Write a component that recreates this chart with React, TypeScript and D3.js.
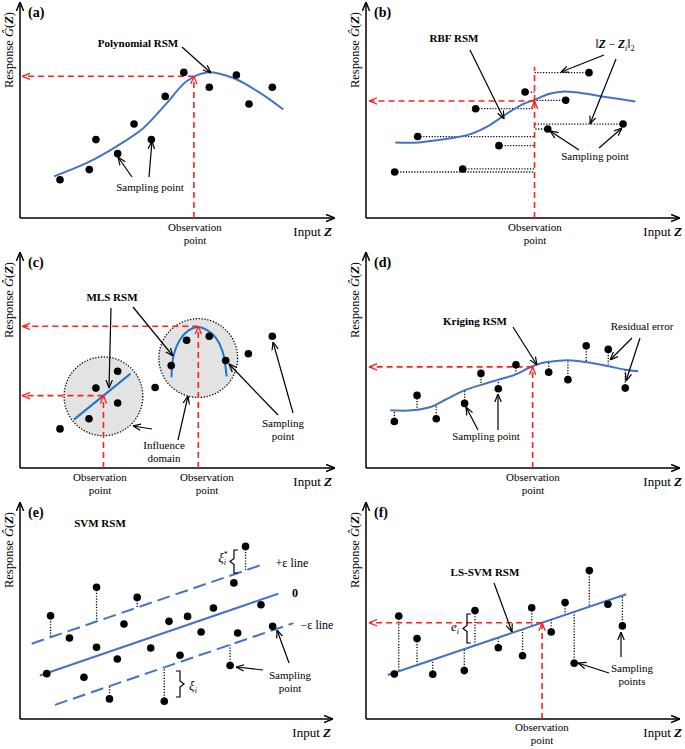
import React from "react";
import * as d3 from "d3";

type Pt = [number, number];

// ---------- (a) Polynomial RSM ----------
const polyPoints: Pt[] = [[1.27,1.77],[2.20,2.24],[2.41,3.63],[3.10,2.98],[3.62,4.35],[4.17,3.63],[4.61,5.63],[5.20,6.74],[6.01,6.05],[6.87,6.62],[7.27,5.28],[8.01,6.05]];
const polyCurve: Pt[] = [[1.08,1.93],[2.12,2.55],[3.07,3.32],[3.92,4.17],[4.66,5.32],[5.29,6.33],[5.93,6.74],[6.77,6.48],[7.62,5.79],[8.36,5.02]];
const polyObs: Pt = [5.52, 6.56];

// ---------- (b) RBF RSM ----------
const rbfPoints: Pt[] = [[0.91,2.13],[1.64,3.77],[3.07,2.27],[3.48,5.06],[4.22,3.35],[5.05,5.83],[5.77,4.12],[6.34,5.45],[7.08,6.73],[8.16,4.35]];
const rbfCurve: Pt[] = [[0.93,3.50],[1.67,3.50],[2.41,3.63],[3.26,3.86],[3.89,4.27],[4.42,4.78],[4.95,5.25],[5.37,5.48],[5.80,5.74],[6.22,5.85],[6.65,5.82],[7.49,5.63],[8.55,5.39]];
const rbfObs: Pt = [5.35, 5.42];
const rbfObsTop = 6.99;

// ---------- (c) MLS RSM ----------
const mlsPoints: Pt[] = [[1.27,1.81],[2.19,2.28],[2.41,3.70],[3.10,4.48],[3.10,3.01],[4.29,3.73],[4.80,4.74],[5.29,5.91],[6.01,6.10],[6.53,4.98],[7.25,5.29],[8.01,6.10]];
const mlsCenters: Pt[] = [[2.65,3.32],[5.66,5.09]];
const mlsRadius = 1.25;
const mlsLine: Pt[] = [[1.71,2.24],[3.51,4.37]];
const mlsArch: Pt[] = [[4.81,4.20],[4.87,5.17],[5.08,5.94],[5.34,6.36],[5.64,6.53],[5.93,6.40],[6.22,6.02],[6.43,5.40],[6.56,4.24]];
const mlsObs: Pt[] = [[2.65,3.35],[5.66,6.56]];

// ---------- (d) Kriging RSM ----------
const krigPoints: Pt[] = [[0.90,2.15],[1.62,3.36],[2.23,2.28],[3.13,2.99],[3.65,4.38],[4.20,3.67],[4.76,4.78],[5.80,4.43],[6.41,4.09],[6.99,5.66],[7.69,5.49],[8.23,3.70]];
const krigCurve: Pt[] = [[0.77,2.67],[1.46,2.67],[2.10,2.85],[2.52,3.16],[3.05,3.55],[3.68,3.86],[4.21,4.09],[4.74,4.32],[5.16,4.63],[5.59,4.86],[6.12,4.97],[6.65,4.97],[7.17,4.86],[7.70,4.71],[8.23,4.55],[8.64,4.48]];
const krigObs: Pt = [5.29, 4.68];

// ---------- (e) SVM RSM ----------
const svmPoints: Pt[] = [[0.97,4.78],[0.85,2.10],[1.57,3.75],[2.03,1.93],[2.43,6.10],[2.43,3.32],[2.84,0.93],[3.09,2.78],[3.30,4.40],[3.72,5.63],[4.15,3.29],[4.58,0.82],[4.73,4.52],[5.08,2.95],[5.32,4.75],[5.75,4.03],[6.14,5.14],[6.67,2.48],[6.79,6.30],[6.91,3.98],[7.16,7.99],[7.65,5.29],[8.02,4.29]];
const svmCoef = [1.70, 0.50];
const svmEps = 1.6;
const svmCenterX = [0.63, 8.20];
const svmUpperX = [0.37, 7.72];
const svmLowerX = [1.11, 8.68];

// ---------- (f) LS-SVM RSM ----------
const lsPoints: Pt[] = [[0.90,2.08],[1.04,4.77],[1.62,3.73],[2.12,2.07],[3.12,2.24],[3.46,5.02],[4.20,3.30],[4.97,2.93],[5.26,5.15],[5.88,4.03],[6.32,5.39],[6.61,2.58],[7.09,6.87],[7.68,5.31],[8.14,4.31]];
const lsCoef = [1.70, 0.493];
const lsLineX = [0.69, 8.26];
const lsObsX = 5.59;

const FONT = '"Liberation Serif", "Times New Roman", serif';
const BLUE = "#4472c4";
const RED = "#ff1f1f";

type Sc = d3.ScaleLinear<number, number>;

const Dots = ({ pts, x, y }: { pts: Pt[]; x: Sc; y: Sc }) => (
  <g>{pts.map((p, i) => <circle key={i} cx={x(p[0])} cy={y(p[1])} r={3.8} fill="#000" />)}</g>
);

const Arr = ({ a, b }: { a: Pt; b: Pt }) => (
  <line x1={a[0]} y1={a[1]} x2={b[0]} y2={b[1]} stroke="#000" strokeWidth={1.2} markerEnd="url(#ah)" />
);

const RedLine = ({ x1, y1, x2, y2, arrow }: any) => (
  <line x1={x1} y1={y1} x2={x2} y2={y2} stroke={RED} strokeWidth={1.6} strokeDasharray="6,4" markerEnd={arrow ? "url(#ahr)" : undefined} />
);

const Dotted = ({ x1, y1, x2, y2 }: any) => (
  <line x1={x1} y1={y1} x2={x2} y2={y2} stroke="#000" strokeWidth={1.3} strokeDasharray="1.2,1.6" />
);

const Txt = ({ x, y, lines, bold, size = 11 }: any) => (
  <text x={x} y={y} textAnchor="middle" fontSize={size} fontWeight={bold ? "bold" : "normal"} style={{ fontFamily: FONT }}>
    {lines.map((l: string, i: number) => (
      <tspan key={i} x={x} dy={i === 0 ? 0 : 13}>{l}</tspan>
    ))}
  </text>
);

const Obs = ({ cx }: { cx: number }) => <Txt x={cx} y={231} lines={["Observation", "point"]} />;

const Brace = ({ x, y1, y2, dir }: { x: number; y1: number; y2: number; dir: number }) => {
  const m = (y1 + y2) / 2;
  const d = `M${x - dir * 4},${y1} L${x},${y1} L${x},${m - 3} L${x + dir * 4},${m} L${x},${m + 3} L${x},${y2} L${x - dir * 4},${y2}`;
  return <path d={d} fill="none" stroke="#000" strokeWidth={1.2} />;
};

const lineGen = (x: Sc, y: Sc) =>
  d3.line<Pt>().x((d) => x(d[0])).y((d) => y(d[1])).curve(d3.curveCatmullRom.alpha(0.5));

interface PanelProps {
  px: number; py: number; ox: number; oy: number; xEnd: number; inEnd: number; tag: string;
  children: (x: Sc, y: Sc) => React.ReactNode;
}

function Panel({ px, py, ox, oy, xEnd, inEnd, tag, children }: PanelProps) {
  const x = d3.scaleLinear().domain([0, 10]).range([ox, ox + 315]);
  const y = d3.scaleLinear().domain([0, 10]).range([oy, oy - 216]);
  return (
    <g transform={`translate(${px},${py})`} style={{ fontFamily: FONT }}>
      <line x1={ox} y1={oy} x2={ox} y2={2} stroke="#000" strokeWidth={1.5} markerEnd="url(#ax)" />
      <line x1={ox} y1={oy} x2={xEnd} y2={oy} stroke="#000" strokeWidth={1.5} markerEnd="url(#ax)" />
      <text x={ox + 8} y={17} fontSize={14} fontWeight="bold" style={{ fontFamily: FONT }}>({tag})</text>
      <text transform={`translate(${ox - 7},50) rotate(-90)`} textAnchor="middle" fontSize={12.5} style={{ fontFamily: FONT }}>
        Response <tspan fontStyle="italic">Ĝ</tspan>(<tspan fontStyle="italic" fontWeight="bold">Z</tspan>)
      </text>
      <text x={inEnd} y={oy + 18} textAnchor="end" fontSize={13} style={{ fontFamily: FONT }}>
        Input <tspan fontStyle="italic" fontWeight="bold">Z</tspan>
      </text>
      {children(x, y)}
    </g>
  );
}

export default function App() {
  return (
    <svg width={685} height={749} style={{ position: "absolute", left: 0, top: 0, background: "#fff", fontFamily: FONT }}>
      <defs>
        <marker id="ah" viewBox="0 0 10 10" refX={10} refY={5} markerWidth={8} markerHeight={8} markerUnits="userSpaceOnUse" orient="auto">
          <path d="M0,1 L10,5 L0,9" fill="none" stroke="#000" strokeWidth={1.5} />
        </marker>
        <marker id="ahr" viewBox="0 0 10 10" refX={10} refY={5} markerWidth={8} markerHeight={8} markerUnits="userSpaceOnUse" orient="auto">
          <path d="M0,1 L10,5 L0,9" fill="none" stroke={RED} strokeWidth={1.6} />
        </marker>
        <marker id="ax" viewBox="0 0 10 10" refX={10} refY={5} markerWidth={9} markerHeight={9} markerUnits="userSpaceOnUse" orient="auto">
          <path d="M0,1 L10,5 L0,9" fill="none" stroke="#000" strokeWidth={1.6} />
        </marker>
      </defs>
      <rect width={685} height={749} fill="#fff" />

      {/* (a) */}
      <Panel px={0} py={0} ox={20} oy={218} xEnd={335} inEnd={332} tag="a">
        {(x, y) => (
          <g>
            <path d={lineGen(x, y)(polyCurve) || ""} fill="none" stroke={BLUE} strokeWidth={2} />
            <RedLine x1={x(polyObs[0])} y1={y(0)} x2={x(polyObs[0])} y2={y(polyObs[1])} arrow />
            <RedLine x1={x(polyObs[0])} y1={y(polyObs[1])} x2={x(0.07)} y2={y(polyObs[1])} arrow />
            <Dots pts={polyPoints} x={x} y={y} />
            <Txt x={138} y={47} lines={["Polynomial RSM"]} bold />
            <Arr a={[182, 47]} b={[211, 73]} />
            <Txt x={150} y={191} lines={["Sampling point"]} />
            <Arr a={[132, 177]} b={[118, 157]} />
            <Arr a={[149, 177]} b={[152, 141]} />
            <Obs cx={195} />
          </g>
        )}
      </Panel>

      {/* (b) */}
      <Panel px={342} py={0} ox={24} oy={218} xEnd={338} inEnd={340} tag="b">
        {(x, y) => (
          <g>
            {rbfPoints.map((p, i) => (
              <Dotted key={i} x1={x(p[0])} y1={y(p[1])} x2={x(rbfObs[0])} y2={y(p[1])} />
            ))}
            <path d={lineGen(x, y)(rbfCurve) || ""} fill="none" stroke={BLUE} strokeWidth={2} />
            <RedLine x1={x(rbfObs[0])} y1={y(0)} x2={x(rbfObs[0])} y2={y(rbfObs[1])} arrow />
            <RedLine x1={x(rbfObs[0])} y1={y(rbfObs[1])} x2={x(rbfObs[0])} y2={y(rbfObsTop)} />
            <RedLine x1={x(rbfObs[0])} y1={y(rbfObs[1])} x2={x(0.1)} y2={y(rbfObs[1])} arrow />
            <Dots pts={rbfPoints} x={x} y={y} />
            <Txt x={112} y={42} lines={["RBF RSM"]} bold />
            <Arr a={[128, 50]} b={[162, 119]} />
            <text x={273} y={48} textAnchor="middle" fontSize={11.5} style={{ fontFamily: FONT }}>
              ‖<tspan fontStyle="italic" fontWeight="bold">Z</tspan> − <tspan fontStyle="italic" fontWeight="bold">Z</tspan>
              <tspan fontSize={8} fontStyle="italic" dy={2.5}>i</tspan>
              <tspan dy={-2.5}>‖</tspan>
              <tspan fontSize={8} dy={2.5}>2</tspan>
            </text>
            <Arr a={[262, 55]} b={[219, 72]} />
            <Arr a={[274, 59]} b={[248, 124]} />
            <Txt x={253} y={160} lines={["Sampling point"]} />
            <Arr a={[237, 150]} b={[208, 131]} />
            <Arr a={[257, 148]} b={[280, 128]} />
            <Obs cx={193} />
          </g>
        )}
      </Panel>

      {/* (c) */}
      <Panel px={0} py={250} ox={20} oy={218} xEnd={335} inEnd={332} tag="c">
        {(x, y) => (
          <g>
            {mlsCenters.map((c, i) => (
              <circle key={i} cx={x(c[0])} cy={y(c[1])} r={x(mlsRadius) - x(0)} fill="#e3e3e3" stroke="#000" strokeWidth={1.3} strokeDasharray="1.3,1.6" />
            ))}
            <path d={d3.line<Pt>().x((d) => x(d[0])).y((d) => y(d[1]))(mlsLine) || ""} fill="none" stroke="#1f77c8" strokeWidth={2} />
            <path d={lineGen(x, y)(mlsArch) || ""} fill="none" stroke="#1f77c8" strokeWidth={2} />
            {mlsObs.map((o, i) => (
              <g key={i}>
                <RedLine x1={x(o[0])} y1={y(0)} x2={x(o[0])} y2={y(o[1])} arrow />
                <RedLine x1={x(o[0])} y1={y(o[1])} x2={x(0.07)} y2={y(o[1])} arrow />
              </g>
            ))}
            <Dots pts={mlsPoints} x={x} y={y} />
            <Txt x={112} y={51} lines={["MLS RSM"]} bold />
            <Arr a={[111, 58]} b={[109, 138]} />
            <Arr a={[133, 57]} b={[173, 106]} />
            <Txt x={164} y={199} lines={["Influence", "domain"]} />
            <Arr a={[152, 179]} b={[133, 176]} />
            <Arr a={[178, 190]} b={[188, 146]} />
            <Txt x={283} y={177} lines={["Sampling", "point"]} />
            <Arr a={[278, 165]} b={[229, 114]} />
            <Arr a={[293, 163]} b={[273, 92]} />
            <Obs cx={100} />
            <Obs cx={207} />
          </g>
        )}
      </Panel>

      {/* (d) */}
      <Panel px={342} py={250} ox={24} oy={218} xEnd={338} inEnd={340} tag="d">
        {(x, y) => {
          const interp = d3.scaleLinear().domain(krigCurve.map((d) => d[0])).range(krigCurve.map((d) => d[1]));
          return (
            <g>
              {krigPoints.map((p, i) => (
                <Dotted key={i} x1={x(p[0])} y1={y(p[1])} x2={x(p[0])} y2={y(interp(p[0]))} />
              ))}
              <path d={lineGen(x, y)(krigCurve) || ""} fill="none" stroke={BLUE} strokeWidth={2} />
              <RedLine x1={x(krigObs[0])} y1={y(0)} x2={x(krigObs[0])} y2={y(krigObs[1])} arrow />
              <RedLine x1={x(krigObs[0])} y1={y(krigObs[1])} x2={x(0.1)} y2={y(krigObs[1])} arrow />
              <Dots pts={krigPoints} x={x} y={y} />
              <Txt x={133} y={75} lines={["Kriging RSM"]} bold />
              <Arr a={[171, 77]} b={[195, 115]} />
              <Txt x={300} y={80} lines={["Residual error"]} />
              <Arr a={[290, 88]} b={[268, 110]} />
              <Arr a={[298, 88]} b={[284, 131]} />
              <Txt x={144} y={190} lines={["Sampling point"]} />
              <Arr a={[136, 180]} b={[124, 157]} />
              <Arr a={[156, 180]} b={[156, 144]} />
              <Obs cx={191} />
            </g>
          );
        }}
      </Panel>

      {/* (e) */}
      <Panel px={0} py={500} ox={20} oy={219} xEnd={333} inEnd={331} tag="e">
        {(x, y) => {
          const f = (v: number, off: number) => svmCoef[0] + off + svmCoef[1] * v;
          const seg = (xs: number[], off: number) =>
            d3.line<number>().x((v) => x(v)).y((v) => y(f(v, off)))(xs) || "";
          return (
            <g>
              {svmPoints.map((p, i) => {
                const up = f(p[0], svmEps), lo = f(p[0], -svmEps);
                if (p[1] > up + 0.15) return <Dotted key={i} x1={x(p[0])} y1={y(p[1])} x2={x(p[0])} y2={y(up)} />;
                if (p[1] < lo - 0.15) return <Dotted key={i} x1={x(p[0])} y1={y(p[1])} x2={x(p[0])} y2={y(lo)} />;
                return null;
              })}
              <path d={seg(svmCenterX, 0)} stroke={BLUE} strokeWidth={2} fill="none" />
              <path d={seg(svmUpperX, svmEps)} stroke={BLUE} strokeWidth={2} fill="none" strokeDasharray="13,6" />
              <path d={seg(svmLowerX, -svmEps)} stroke={BLUE} strokeWidth={2} fill="none" strokeDasharray="13,6" />
              <Dots pts={svmPoints} x={x} y={y} />
              <Txt x={100} y={27} lines={["SVM RSM"]} bold />
              <text x={223} y={62} textAnchor="middle" fontSize={13} style={{ fontFamily: FONT }}>
                <tspan fontStyle="italic">ξ</tspan>
                <tspan fontSize={8} dy={-5}>*</tspan>
                <tspan fontSize={8} fontStyle="italic" dx={-4} dy={8}>i</tspan>
              </text>
              <Brace x={234} y1={50} y2={73} dir={-1} />
              <Txt x={292} y={67} lines={["+ε line"]} size={12} />
              <Txt x={295} y={97} lines={["0"]} bold size={12} />
              <Txt x={317} y={129} lines={["−ε line"]} size={12} />
              <text x={193} y={190} textAnchor="middle" fontSize={13} style={{ fontFamily: FONT }}>
                <tspan fontStyle="italic">ξ</tspan>
                <tspan fontSize={8} fontStyle="italic" dy={3}>i</tspan>
              </text>
              <Brace x={180} y1={171} y2={197} dir={1} />
              <Txt x={290} y={179} lines={["Sampling", "point"]} />
              <Arr a={[263, 170]} b={[236, 167]} />
              <Arr a={[289, 163]} b={[277, 130]} />
            </g>
          );
        }}
      </Panel>

      {/* (f) */}
      <Panel px={342} py={500} ox={24} oy={219} xEnd={338} inEnd={340} tag="f">
        {(x, y) => {
          const f = (v: number) => lsCoef[0] + lsCoef[1] * v;
          const obsY = f(lsObsX);
          return (
            <g>
              {lsPoints.map((p, i) => (
                <Dotted key={i} x1={x(p[0])} y1={y(p[1])} x2={x(p[0])} y2={y(f(p[0]))} />
              ))}
              <path d={d3.line<number>().x((v) => x(v)).y((v) => y(f(v)))(lsLineX) || ""} stroke={BLUE} strokeWidth={2} fill="none" />
              <RedLine x1={x(lsObsX)} y1={y(0)} x2={x(lsObsX)} y2={y(obsY)} arrow />
              <RedLine x1={x(lsObsX)} y1={y(obsY)} x2={x(0.1)} y2={y(obsY)} arrow />
              <Dots pts={lsPoints} x={x} y={y} />
              <Txt x={143} y={76} lines={["LS-SVM RSM"]} bold />
              <Arr a={[152, 83]} b={[170, 132]} />
              <text x={113} y={131} textAnchor="middle" fontSize={13} style={{ fontFamily: FONT }}>
                <tspan fontStyle="italic">e</tspan>
                <tspan fontSize={8} fontStyle="italic" dy={3}>i</tspan>
              </text>
              <Brace x={125} y1={114} y2={143} dir={-1} />
              <Txt x={290} y={172} lines={["Sampling", "points"]} />
              <Arr a={[267, 173]} b={[236, 163]} />
              <Arr a={[279, 157]} b={[279, 132]} />
              <Obs cx={200} />
            </g>
          );
        }}
      </Panel>
    </svg>
  );
}
